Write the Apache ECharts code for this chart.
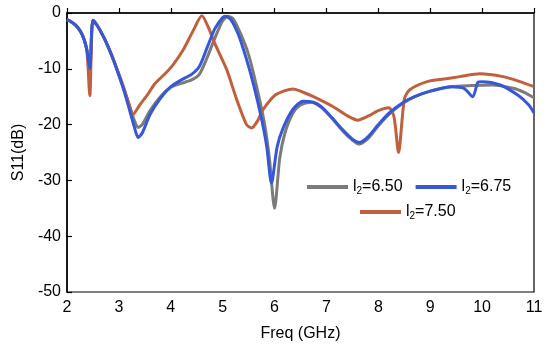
<!DOCTYPE html>
<html>
<head>
<meta charset="utf-8">
<script src="https://cdn.jsdelivr.net/npm/echarts@6/dist/echarts.min.js"></script>
<style>html,body{margin:0;padding:0;background:#fff}#c{width:550px;height:347px}</style>
</head>
<body>
<div id="c"></div>
<script>
var freqGray = [2.0,2.1,2.2,2.3,2.38,2.44,2.5,2.6,2.7,2.8,2.9,3.0,3.1,3.2,3.3,3.37,3.45,3.6,3.8,4.0,4.2,4.4,4.55,4.7,4.85,5.0,5.1,5.2,5.35,5.5,5.65,5.8,5.9,6.0,6.1,6.2,6.35,6.5,6.7,6.9,7.1,7.3,7.5,7.62,7.8,8.0,8.2,8.45,8.7,9.0,9.4,9.8,10.2,10.6,10.8,11.0];
var s11Gray = [-1.2,-1.7,-2.5,-4.0,-6.5,-10,-1.3,-2.5,-4.2,-6.2,-8.5,-11.0,-13.6,-16.5,-19.3,-20.5,-20.0,-17.5,-15.0,-13.3,-12.6,-12.0,-11.0,-8.0,-4.5,-1.4,-0.6,-1.0,-3.8,-7.5,-13.0,-19.5,-26,-35,-26,-21.5,-18,-16.5,-16.0,-16.9,-18.8,-21,-22.8,-23.5,-22.5,-20.2,-18.2,-16.3,-15,-14,-13.2,-13.0,-12.9,-13.5,-14.2,-15.2];

var freqBlue = [2.0,2.1,2.2,2.3,2.38,2.44,2.5,2.6,2.7,2.8,2.9,3.0,3.1,3.2,3.3,3.37,3.45,3.6,3.8,4.0,4.2,4.4,4.55,4.7,4.85,5.0,5.05,5.15,5.3,5.45,5.6,5.75,5.85,5.94,6.05,6.17,6.36,6.55,6.75,6.9,7.1,7.3,7.5,7.64,7.8,8.0,8.2,8.45,8.7,9.0,9.4,9.65,9.82,9.92,10.0,10.35,10.7,10.9,11.0];
var s11Blue = [-1.2,-1.7,-2.5,-4.0,-6.5,-10,-1.3,-2.5,-4.2,-6.2,-8.5,-11.2,-14,-17.2,-20.5,-22.3,-21.5,-18.2,-15.3,-13.2,-12.0,-11.0,-9.6,-6.2,-2.8,-0.8,-0.6,-1.1,-3.8,-8.0,-13.0,-19,-24,-30.5,-24,-20.5,-17.2,-15.8,-16.0,-16.8,-18.7,-20.8,-22.6,-23.2,-22.2,-20.0,-18.0,-16.2,-15.0,-14.0,-13.2,-13.5,-15.0,-12.4,-12.3,-12.9,-14.8,-16.5,-17.9];

var freqRed = [2.0,2.1,2.2,2.3,2.38,2.44,2.5,2.6,2.7,2.8,2.9,3.0,3.1,3.2,3.27,3.4,3.54,3.7,3.9,4.05,4.24,4.43,4.6,4.72,4.85,5.08,5.27,5.46,5.56,5.68,5.78,6.0,6.2,6.36,6.55,6.75,7.13,7.4,7.6,7.8,8.0,8.2,8.3,8.39,8.5,8.6,8.94,9.3,9.57,9.96,10.4,10.7,11.0];
var s11Red = [-1.2,-1.7,-2.5,-4.0,-6.5,-14.8,-1.3,-2.5,-4.2,-6.2,-8.5,-11.0,-13.6,-16.5,-18.2,-16.5,-14.8,-12.6,-10.8,-9.2,-6.6,-3.2,-0.5,-2.5,-5.5,-10.2,-15.5,-20,-20.6,-19.2,-17.3,-14.8,-13.9,-13.6,-14.2,-15,-16.8,-18.4,-19.2,-18.5,-17.5,-17.0,-18.5,-25,-15.5,-13.8,-12.3,-11.8,-11.4,-10.9,-11.4,-12.2,-13.2];

var seriesNames = ['6.50','6.75','7.50'];
var xTicks = [2,11,1];
var yTicks = [-50,0,10];

function pairs(xs, ys){ return xs.map(function(x,i){return [x, ys[i]];}); }

var chart = echarts.init(document.getElementById('c'), null, {renderer:'canvas'});
var font = '"Liberation Sans", Arial, sans-serif';
var legendText = {
  fontFamily: font, fontSize: 16, color: '#000',
  rich: { sub: { fontFamily: font, fontSize: 10, color: '#000', verticalAlign: 'bottom', padding: [9,0,0,0] },
          n: { fontFamily: font, fontSize: 16, color: '#000' } }
};
function fmt(name){ return '{n|l}{sub|2}{n|=' + name + '}'; }

chart.setOption({
  animation: false,
  grid: { left: 67, right: 16, top: 13, bottom: 54, show: true, borderColor: '#000', borderWidth: 1.2 },
  legend: [
    { data: [seriesNames[0], seriesNames[1]], left: 302, top: 174, icon: 'rect', itemWidth: 41, itemHeight: 4,
      itemGap: 13, formatter: fmt, textStyle: legendText },
    { data: [seriesNames[2]], left: 355, top: 199, icon: 'rect', itemWidth: 41, itemHeight: 4,
      formatter: fmt, textStyle: legendText }
  ],
  xAxis: {
    type: 'value', min: xTicks[0], max: xTicks[1], interval: xTicks[2],
    name: 'Freq (GHz)', nameLocation: 'middle', nameGap: 34,
    nameTextStyle: { fontFamily: font, fontSize: 16, color: '#000' },
    axisLine: { lineStyle: { color: '#000', width: 1.5 } },
    axisTick: { inside: true, length: 5, lineStyle: { color: '#000', width: 1.2 } },
    axisLabel: { fontFamily: font, fontSize: 16, color: '#000', margin: 8 },
    splitLine: { show: false }
  },
  yAxis: {
    type: 'value', min: yTicks[0], max: yTicks[1], interval: yTicks[2],
    name: 'S11(dB)', nameLocation: 'middle', nameGap: 36, nameRotate: 90,
    nameTextStyle: { fontFamily: font, fontSize: 16, color: '#000' },
    axisLine: { lineStyle: { color: '#000', width: 1.5 } },
    axisTick: { inside: true, length: 5, lineStyle: { color: '#000', width: 1.2 } },
    axisLabel: { fontFamily: font, fontSize: 16, color: '#000', margin: 6 },
    splitLine: { show: false }
  },
  series: [
    { name: seriesNames[0], type: 'line', data: pairs(freqGray, s11Gray), symbol: 'none', smooth: 0.25,
      itemStyle: { color: '#7b7b7b' }, lineStyle: { color: '#7b7b7b', width: 3 } },
    { name: seriesNames[2], type: 'line', data: pairs(freqRed, s11Red), symbol: 'none', smooth: 0.25,
      itemStyle: { color: '#c0603c' }, lineStyle: { color: '#c0603c', width: 3 } },
    { name: seriesNames[1], type: 'line', data: pairs(freqBlue, s11Blue), symbol: 'none', smooth: 0.25,
      itemStyle: { color: '#3558d8' }, lineStyle: { color: '#3558d8', width: 3 } }
  ]
});
</script>
</body>
</html>
